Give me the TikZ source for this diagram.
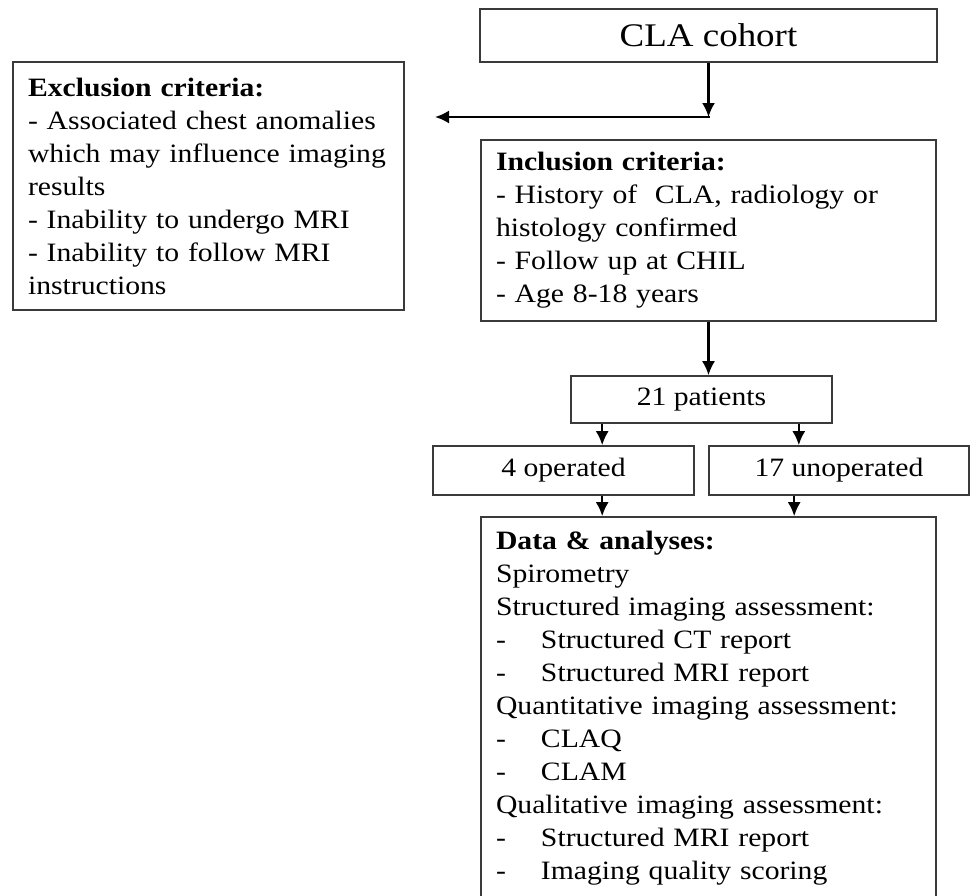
\documentclass[tikz,border=0pt]{standalone}
\usepackage{fontspec}
\setmainfont{Liberation Serif}[FakeStretch=1.12]
\usetikzlibrary{arrows.meta}
\definecolor{boxgray}{HTML}{3A3A3A}
\begin{document}
\begin{tikzpicture}[x=0.5pt,y=-0.5pt,
  box/.style={draw=boxgray,line width=0.8pt,inner sep=0pt},
  txtbox/.style={box,align=left,inner xsep=7.5pt,inner ysep=0pt,font=\fontsize{13.25}{16.5}\selectfont},
  cbox/.style={box,align=center,font=\fontsize{13.25}{16.5}\selectfont},
  arr/.style={line width=1.1pt,-{Latex[length=7pt,width=6.5pt]}}]
\useasboundingbox (0,0) rectangle (970,895);
\clip (0,0) rectangle (970,895);
\fill[white] (0,0) rectangle (970,895);

\node[cbox,minimum width=228.5pt,minimum height=26.5pt,font=\fontsize{16.5}{19}\selectfont] (cla) at (708.5,35.5) {CLA cohort};

\node[txtbox,text width=180.5pt,minimum height=124pt] (excl) at (208.5,186)
 {\textbf{Exclusion criteria:}\\- Associated chest anomalies\\which may influence imaging\\results\\- Inability to undergo MRI\\- Inability to follow MRI\\instructions};

\node[txtbox,text width=212.5pt,minimum height=90.5pt] (incl) at (708.5,230.5)
 {\textbf{Inclusion criteria:}\\- History of\ \ CLA, radiology or\\histology confirmed\\- Follow up at CHIL\\- Age 8-18 years};

\node[cbox,minimum width=130.5pt,minimum height=23.5pt] (pat) at (701.5,399.5) {21 patients};
\node[cbox,minimum width=130.5pt,minimum height=24.5pt] (op) at (563.5,470.5) {4 operated};
\node[cbox,minimum width=130pt,minimum height=24.5pt] (unop) at (839,470.5) {17 unoperated};

\node[txtbox,text width=212.5pt,minimum height=191.5pt] (data) at (708.5,708.5)
 {\textbf{Data \& analyses:}\\Spirometry\\Structured imaging assessment:\\
  \makebox[22.5pt][l]{-}Structured CT report\\
  \makebox[22.5pt][l]{-}Structured MRI report\\
  Quantitative imaging assessment:\\
  \makebox[22.5pt][l]{-}CLAQ\\
  \makebox[22.5pt][l]{-}CLAM\\
  Qualitative imaging assessment:\\
  \makebox[22.5pt][l]{-}Structured MRI report\\
  \makebox[22.5pt][l]{-}Imaging quality scoring};

\coordinate (corner) at (cla.south |- 0,117);
\coordinate (exend) at (435,117);
\draw[arr] (cla.south) -- (corner);
\draw[line width=1.1pt] (corner) -- ++(1,0);
\draw[arr] (corner) -- (exend);

\draw[arr] (incl.south) -- (incl.south |- pat.north);

\coordinate (pl) at ([xshift=16pt]pat.south west);
\coordinate (pr) at ([xshift=-17pt]pat.south east);
\draw[arr] (pl) -- (pl |- op.north);
\draw[arr] (pr) -- (pr |- unop.north);

\coordinate (ol) at ([xshift=85pt]op.south west);
\coordinate (ur) at ([xshift=43pt]unop.south west);
\draw[arr] (ol) -- (ol |- data.north);
\draw[arr] (ur) -- (ur |- data.north);
\end{tikzpicture}
\end{document}
